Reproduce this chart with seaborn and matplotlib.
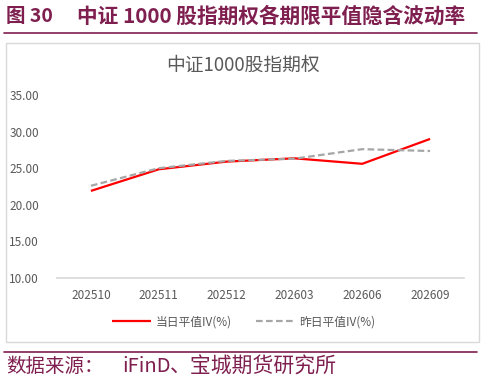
import matplotlib
matplotlib.use("Agg")
import matplotlib.pyplot as plt
import matplotlib.patches as patches
import seaborn as sns
import pandas as pd

# 数据
tenors = ["202510", "202511", "202512", "202603", "202606", "202609"]
iv_today = [21.9, 24.85, 25.9, 26.35, 25.6, 29.0]
iv_yesterday = [22.6, 25.0, 26.0, 26.3, 27.6, 27.35]

sns.set_theme(style="white")
plt.rcParams['font.family'] = ['Noto Sans CJK SC', 'DejaVu Sans']

maroon = "#7F1F4F"
grey_txt = "#595959"

df = pd.DataFrame({
    "期限": tenors * 2,
    "IV": iv_today + iv_yesterday,
    "系列": ["当日平值IV(%)"] * 6 + ["昨日平值IV(%)"] * 6,
})

fig = plt.figure(figsize=(4.85, 3.82), dpi=100)
W, H = 485, 382

# 外框
fig.patches.append(patches.Rectangle((6 / W, 1 - 342 / H), 473 / W, 299 / H,
                                     transform=fig.transFigure, fill=False,
                                     edgecolor="#D9D9D9", linewidth=1.0))
# 顶部/底部分隔线
fig.add_artist(plt.Line2D([4 / W, 477 / W], [1 - 33 / H] * 2, color=maroon, lw=1.2))
fig.add_artist(plt.Line2D([4 / W, 477 / W], [1 - 352 / H] * 2, color=maroon, lw=1.2))

fig.text(6 / W, 1 - 16 / H, "图 30", color=maroon, fontsize=14,
         fontweight="bold", va="center", ha="left")
fig.text(77 / W, 1 - 16 / H, "中证 1000 股指期权各期限平值隐含波动率",
         color=maroon, fontsize=14.9, fontweight="bold", va="center", ha="left")
fig.text(6 / W, 1 - 367 / H, "数据来源：", color=maroon, fontsize=14,
         va="center", ha="left")
fig.text(122 / W, 1 - 367 / H, "iFinD", color=maroon, fontsize=14.5,
         va="center", ha="left")
fig.text(170 / W, 1 - 367 / H, "、宝城期货研究所", color=maroon, fontsize=15,
         va="center", ha="left")
fig.text(243 / W, 1 - 65 / H, "中证1000股指期权", color=grey_txt,
         fontsize=13.5, va="center", ha="center")

ax = fig.add_axes([57 / W, 1 - 278 / H, 407 / W, 183 / H])
sns.lineplot(data=df, x="期限", y="IV", hue="系列", style="系列",
             palette=["#FF0000", "#A6A6A6"], dashes=[(1, 0), (3, 1.5)],
             linewidth=1.6, ax=ax, legend=True, sort=False)

ax.set_xlim(-0.5, 5.5)
ax.set_ylim(10, 35)
ax.set_yticks([10, 15, 20, 25, 30, 35])
ax.set_yticklabels([f"{v:.2f}" for v in [10, 15, 20, 25, 30, 35]])
ax.set_xlabel("")
ax.set_ylabel("")
ax.tick_params(axis="both", colors=grey_txt, labelsize=8.5, length=0)
ax.tick_params(axis="x", pad=8)
ax.tick_params(axis="y", pad=13)
for s in ["top", "right", "left"]:
    ax.spines[s].set_visible(False)
ax.spines["bottom"].set_color("#D9D9D9")
ax.patch.set_alpha(0)

handles, labels = ax.get_legend_handles_labels()
ax.get_legend().remove()
fig.legend(handles, labels, loc="center", bbox_to_anchor=(244 / W, 1 - 322 / H),
           ncol=2, frameon=False, fontsize=8.5, labelcolor=grey_txt,
           handlelength=3.3, columnspacing=2.0, handletextpad=0.4)

fig.savefig("out.png", dpi=100)
